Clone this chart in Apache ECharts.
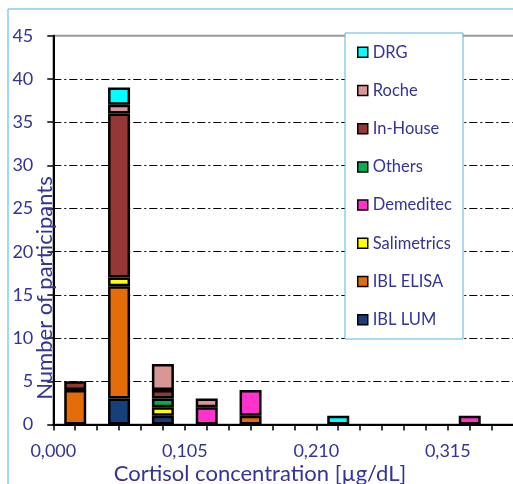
<!DOCTYPE html>
<html>
<head>
<meta charset="utf-8">
<script src="https://cdn.jsdelivr.net/npm/echarts@6/dist/echarts.min.js"></script>
<style>
html,body{margin:0;padding:0;overflow:hidden;background:#fff;}
#c{width:560px;height:500px;}
</style>
</head>
<body>
<div id="c"></div>
<script>
// x ticks (µg/dL), labels shown every 6th tick
var xTicks = ['0,000','0,0175','0,035','0,0525','0,070','0,0875','0,105','0,1225','0,140','0,1575','0,175','0,1925',
              '0,210','0,2275','0,245','0,2625','0,280','0,2975','0,315','0,3325','0,350','0,3675','0,385'];
var bins = ['0,0175', '0,0525', '0,0875', '0,1225', '0,1575', '0,2275', '0,3325'];
var iblLum      = [null, 3, 1, null, null, null, null];
var iblElisa    = [4, 13, null, null, 1, null, null];
var salimetrics = [null, 1, 1, null, null, null, null];
var demeditec   = [null, null, null, 2, 3, null, 1];
var others      = [null, null, 1, null, null, null, null];
var inHouse     = [1, 19, 1, null, null, null, null];
var roche       = [null, 1, 3, 1, null, null, null];
var drg         = [null, 2, null, null, null, 1, null];

var seriesDefs = [
  ['IBL LUM', iblLum, '#17407A'],
  ['IBL ELISA', iblElisa, '#E36C09'],
  ['Salimetrics', salimetrics, '#FFFF00'],
  ['Demeditec', demeditec, '#FF33CC'],
  ['Others', others, '#00B050'],
  ['In-House', inHouse, '#953735'],
  ['Roche', roche, '#D99694'],
  ['DRG', drg, '#00FFFF']
];
var legendOrder = ['DRG', 'Roche', 'In-House', 'Others', 'Demeditec', 'Salimetrics', 'IBL ELISA', 'IBL LUM'];

var txt = '#333399';
var font = 'Lato';

var series = seriesDefs.map(function (d) {
  return {
    name: d[0],
    type: 'bar',
    stack: 'total',
    barWidth: 22,
    itemStyle: { color: d[2], borderColor: '#000', borderWidth: 2.5 },
    data: xTicks.map(function (c) {
      var k = bins.indexOf(c);
      return k < 0 ? null : d[1][k];
    })
  };
});

var chart = echarts.init(document.getElementById('c'));
chart.setOption({
  animation: false,
  graphic: [
    { type: 'line', shape: { x1: 8, y1: 9, x2: 8, y2: 500 }, style: { stroke: '#86CBEF', lineWidth: 1.5 }, z: 0 },
    { type: 'line', shape: { x1: 8, y1: 9, x2: 560, y2: 9 }, style: { stroke: '#86CBEF', lineWidth: 1.5 }, z: 0 },
    { type: 'rect', shape: { x: 345, y: 33, width: 118, height: 306 }, style: { fill: '#fff', stroke: '#5AB4E6', lineWidth: 1 }, z: 3 },
    { type: 'text', x: 45, y: 288, rotation: Math.PI / 2, z: 6,
      style: { text: 'Number of participants', fill: txt, font: '22px Lato', textAlign: 'center', textVerticalAlign: 'middle' } },
    { type: 'text', x: 260, y: 474, z: 6,
      style: { text: 'Cortisol concentration [µg/dL]', fill: txt, font: '22px Lato', textAlign: 'center', textVerticalAlign: 'middle' } }
  ],
  grid: { left: 53.3, right: 24.5, top: 35.7, bottom: 75.5, outerBoundsMode: 'none', containLabel: false,
          show: true, borderColor: '#999', borderWidth: 2, backgroundColor: 'transparent' },
  legend: {
    data: legendOrder,
    orient: 'vertical',
    left: 357, top: 42.3,
    padding: 0,
    itemWidth: 10, itemHeight: 10,
    itemGap: 18.2,
    itemTextGap: 5,
    icon: 'rect',
    itemStyle: { borderColor: '#000', borderWidth: 1.5 },
    textStyle: { color: txt, fontFamily: font, fontSize: 16.5, lineHeight: 20 },
    z: 5
  },
  xAxis: {
    type: 'category',
    data: xTicks,
    boundaryGap: false,
    axisLine: { lineStyle: { color: '#000', width: 2 } },
    axisTick: { show: true, interval: 0, length: 6, lineStyle: { color: '#000', width: 1.5 } },
    axisLabel: { color: txt, fontFamily: font, fontSize: 18, margin: 18, interval: 5 },
    splitLine: { show: false }
  },
  yAxis: {
    type: 'value',
    min: 0, max: 45, interval: 5,
    axisLine: { show: true, lineStyle: { color: '#000', width: 2 } },
    axisTick: { show: true, length: 6, lineStyle: { color: '#000', width: 1.5 } },
    axisLabel: { color: txt, fontFamily: font, fontSize: 18, margin: 20 },
    splitLine: { show: true, showMaxLine: false, lineStyle: { color: '#000', width: 1, type: [8, 3, 2, 3] } }
  },
  series: series
});
</script>
</body>
</html>
